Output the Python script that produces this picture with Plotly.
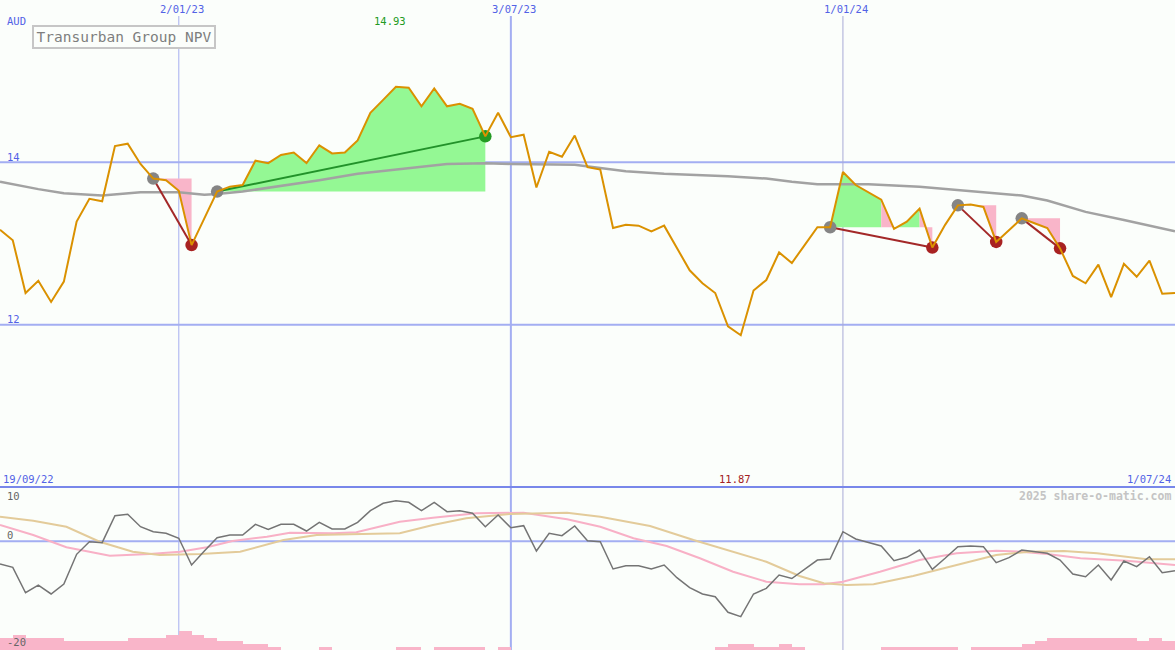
import numpy as np
import pandas as pd
import plotly.graph_objects as go

# ---------------- data ----------------
START = "2022-09-26"          # first weekly point
END = "2024-07-01"            # last weekly point
TITLE = "Transurban Group NPV"
CURRENCY = "AUD"

# weekly close (AUD)
price = [13.17, 13.04, 12.39, 12.54, 12.28, 12.53, 13.27, 13.55, 13.52, 14.20,
         14.23, 13.98, 13.80, 13.78, 13.65, 12.98, 13.31, 13.64, 13.70, 13.72,
         14.02, 13.99, 14.09, 14.12, 13.99, 14.21, 14.11, 14.12, 14.27, 14.61,
         14.77, 14.93, 14.92, 14.69, 14.91, 14.69, 14.72, 14.66, 14.32, 14.61,
         14.31, 14.34, 13.69, 14.13, 14.07, 14.33, 13.94, 13.91, 13.19, 13.23,
         13.22, 13.15, 13.22, 12.94, 12.67, 12.51, 12.39, 11.98, 11.87, 12.42,
         12.55, 12.89, 12.76, 12.98, 13.20, 13.20, 13.88, 13.72, 13.63, 13.54,
         13.18, 13.27, 13.43, 12.95, 13.23, 13.47, 13.48, 13.45, 13.02, 13.17,
         13.31, 13.25, 13.19, 12.94, 12.60, 12.51, 12.74, 12.34, 12.75, 12.59,
         12.79, 12.38, 12.39]

# long moving average (sampled, week index -> AUD)
ma_long_wk = [0, 3, 5, 8, 11, 14, 16, 17, 19, 23, 25, 28, 32, 35, 38, 40, 45, 47,
              49, 52, 57, 60, 62, 64, 66, 68, 72, 75, 80, 82, 85, 88, 92]
ma_long = [13.76, 13.67, 13.62, 13.59, 13.63, 13.63, 13.60, 13.61, 13.64, 13.73,
           13.78, 13.86, 13.93, 13.98, 13.99, 13.98, 13.97, 13.93, 13.89, 13.86,
           13.83, 13.80, 13.76, 13.73, 13.73, 13.73, 13.70, 13.66, 13.59, 13.53,
           13.39, 13.29, 13.15]

# trend segments: start week, end week, direction
seg_start = [12, 17, 65, 75, 80]
seg_end = [15, 38, 73, 78, 83]
seg_dir = ["down", "up", "down", "down", "down"]

# shaded spans: from week, to week, reference week (level), sign
shade_from = [12, 17, 65, 69, 70, 72, 75, 80]
shade_to = [15, 38, 69, 70, 72, 73, 78, 83]
shade_ref = [12, 17, 65, 65, 65, 65, 75, 80]
shade_sign = ["neg", "pos", "pos", "neg", "pos", "neg", "neg", "neg"]

# lower panel: momentum oscillator (weekly)
momentum = [-4.17, -4.78, -9.46, -8.04, -9.69, -7.85, -2.39, -0.07, -0.25, 4.72,
            4.98, 2.69, 1.77, 1.48, 0.56, -4.36, -1.78, 0.67, 1.17, 1.17,
            3.13, 2.21, 3.13, 3.13, 1.90, 3.50, 2.27, 2.27, 3.50, 5.64,
            7.00, 7.48, 7.18, 5.64, 7.18, 5.45, 5.64, 5.16, 2.69, 4.85,
            2.51, 2.88, -1.78, 1.48, 1.04, 2.82, 0.12, -0.07, -5.09, -4.49,
            -4.49, -5.09, -4.36, -6.69, -8.53, -9.69, -10.19, -13.06, -13.87, -9.69,
            -8.65, -6.20, -6.84, -5.09, -3.44, -3.25, 1.77, 0.43, -0.25, -0.86,
            -3.57, -2.94, -1.60, -5.15, -3.12, -0.99, -0.86, -0.99, -3.93, -3.01,
            -1.60, -1.91, -2.20, -3.44, -6.01, -6.51, -4.36, -7.12, -3.62, -4.67,
            -2.83, -5.77, -5.41]

pink_wk = [0, 2.6, 5.2, 8.6, 11.7, 14.1, 16.2, 18.2, 20.9, 22.7, 26.1, 27.9, 31.3,
           33.9, 37.3, 41, 44.4, 47, 49.6, 52.2, 54.8, 57.4, 60, 62.6, 64.5, 66,
           68.9, 72, 74.9, 78, 79.9, 82, 84.6, 88.2, 92]
pink_val = [3.01, 1.17, -1.10, -2.64, -2.33, -1.91, -1.10, 0.06, 0.85, 1.59, 1.48,
            1.66, 3.61, 4.35, 5.16, 5.27, 4.05, 2.69, 0.56, -0.86, -3.12, -5.59,
            -7.43, -7.91, -7.91, -7.43, -5.59, -3.44, -2.20, -1.72, -1.91, -2.33,
            -3.12, -3.57, -4.36]

tan_wk = [0, 2.6, 5.2, 7.8, 10.4, 12.5, 15.7, 18.8, 22.2, 24.8, 27.4, 31.3, 33.9,
          36.5, 39.9, 44.4, 47, 50.9, 54.3, 57.4, 60, 62.6, 64.5, 66.3, 68.4, 71.5,
          74.9, 78, 80.6, 83.3, 85.9, 89.8, 92]
tan_val = [4.53, 3.80, 2.69, -0.07, -1.91, -2.52, -2.33, -1.91, 0.24, 1.17, 1.29,
           1.48, 3.01, 4.24, 5.03, 5.27, 4.53, 2.82, 0.24, -1.91, -3.75, -6.38,
           -7.72, -8.04, -7.91, -6.38, -4.36, -2.52, -1.91, -1.78, -2.20, -3.31,
           -3.31]

# weekly volume (relative units)
volume = [12, 15, 12, 12, 12, 9, 9, 9, 9, 9, 12, 12, 12, 15, 19, 15, 12, 9, 9, 6,
          6, 3, 0, 0, 0, 3, 0, 0, 0, 0, 0, 3, 3, 0, 3, 3, 3, 3, 0, 3,
          0, 0, 0, 0, 0, 0, 0, 0, 0, 0, 0, 0, 0, 0, 0, 0, 3, 6, 6, 3,
          3, 6, 3, 0, 0, 0, 0, 0, 0, 3, 3, 3, 3, 3, 3, 0, 3, 3, 3, 3,
          6, 9, 12, 12, 12, 12, 12, 12, 12, 9, 12, 9, 0]

grid_dates = ["2023-01-02", "2023-07-03", "2024-01-01"]
grid_labels = ["2/01/23", "3/07/23", "1/01/24"]
price_ticks = [14, 12]
osc_ticks = [10, 0, -20]
start_label = "19/09/22"
end_label = "1/07/24"
credit = "2025 share-o-matic.com"

# ---------------- styling ----------------
W, H = 1175, 650
SPLIT = 487
BG = "#FBFEFB"
GRID = "#A3AEF2"
SEP = "#7887EA"
BLUE_TXT = "#5262E6"
ORANGE = "#DA9100"
GREY_MA = "#A2A2A2"
GREEN_FILL = "#94F894"
PINK_FILL = "#F9B5C9"
MONO = "DejaVu Sans Mono"
FS = 10.5


def wk(w):
    return pd.Timestamp(START) + pd.to_timedelta(np.asarray(w, dtype=float) * 7, unit="D")


dates = wk(np.arange(len(price)))
p = np.array(price)

fig = go.Figure()

# shaded areas
for a, b, r, s in zip(shade_from, shade_to, shade_ref, shade_sign):
    lvl = p[r]
    xs = [dates[a]] + list(dates[a:b + 1]) + [dates[b]]
    ys = [lvl] + list(p[a:b + 1]) + [lvl]
    fig.add_trace(go.Scatter(x=xs, y=ys, mode="lines", fill="toself",
                             fillcolor=GREEN_FILL if s == "pos" else PINK_FILL,
                             line=dict(width=0), hoverinfo="skip"))

# long MA
fig.add_trace(go.Scatter(x=wk(ma_long_wk), y=ma_long, mode="lines",
                         line=dict(color=GREY_MA, width=2.5), hoverinfo="skip"))

# trend lines
for a, b, d in zip(seg_start, seg_end, seg_dir):
    fig.add_trace(go.Scatter(x=[dates[a], dates[b]], y=[p[a], p[b]], mode="lines",
                             line=dict(color="#A32828" if d == "down" else "#22922A", width=2),
                             hoverinfo="skip"))

# dots
fig.add_trace(go.Scatter(x=[dates[a] for a in seg_start], y=[p[a] for a in seg_start],
                         mode="markers", marker=dict(color="#858585", size=12.5), hoverinfo="skip"))
fig.add_trace(go.Scatter(x=[dates[b] for b in seg_end], y=[p[b] for b in seg_end],
                         mode="markers",
                         marker=dict(color=["#A82222" if d == "down" else "#239A23" for d in seg_dir],
                                     size=12.5), hoverinfo="skip"))

# price
fig.add_trace(go.Scatter(x=dates, y=price, mode="lines",
                         line=dict(color=ORANGE, width=2), hoverinfo="skip"))

# lower panel
fig.add_trace(go.Bar(x=dates + pd.Timedelta(hours=84), y=volume, width=7 * 86400000,
                     marker=dict(color=PINK_FILL, line=dict(width=0)),
                     xaxis="x", yaxis="y3", hoverinfo="skip"))
fig.add_trace(go.Scatter(x=wk(pink_wk), y=pink_val, mode="lines", xaxis="x", yaxis="y2",
                         line=dict(color="#F8B0C6", width=2), hoverinfo="skip"))
fig.add_trace(go.Scatter(x=wk(tan_wk), y=tan_val, mode="lines", xaxis="x", yaxis="y2",
                         line=dict(color="#E3CB9A", width=2), hoverinfo="skip"))
fig.add_trace(go.Scatter(x=dates, y=momentum, mode="lines", xaxis="x", yaxis="y2",
                         line=dict(color="#747474", width=1.5), hoverinfo="skip"))

split_paper = 1 - SPLIT / H

shapes = []
for t in price_ticks:
    shapes.append(dict(type="line", xref="paper", x0=0, x1=1, yref="y", y0=t, y1=t,
                       line=dict(color=GRID, width=2), layer="below"))
shapes.append(dict(type="line", xref="paper", x0=0, x1=1, yref="y2", y0=0, y1=0,
                   line=dict(color=GRID, width=2), layer="below"))
vcols = ["#A6AEF0", "#A3AEF2", "#A8ABD6"]
vwid = [1, 2, 1]
for gd, c, wdt in zip(grid_dates, vcols, vwid):
    shapes.append(dict(type="line", xref="x", x0=gd, x1=gd, yref="paper",
                       y0=0, y1=1 - 16 / H, line=dict(color=c, width=wdt), layer="below"))
shapes.append(dict(type="line", xref="paper", x0=0, x1=1, yref="paper",
                   y0=split_paper, y1=split_paper, line=dict(color=SEP, width=2), layer="above"))


def px_x(x):
    return x / W


def px_y(y):
    return 1 - y / H


ann = []


def txt(s, x, y, color, size=FS, xanchor="left", bold=False, **kw):
    ann.append(dict(text=f"<b>{s}</b>" if bold else s, xref="paper", yref="paper",
                    x=px_x(x), y=px_y(y), xanchor=xanchor, yanchor="middle",
                    showarrow=False, font=dict(family=MONO, size=size, color=color), **kw))


for gd, lab in zip(grid_dates, grid_labels):
    xpx = (pd.Timestamp(gd) - pd.Timestamp(START)).days / (pd.Timestamp(END) - pd.Timestamp(START)).days * W
    txt(lab, xpx + 3, 9, BLUE_TXT, xanchor="center")

txt(CURRENCY, 5, 21, BLUE_TXT)
txt(str(price_ticks[0]), 5, 157, BLUE_TXT)
txt(str(price_ticks[1]), 5, 319, BLUE_TXT)

imax = int(np.argmax(p))
imin = int(np.argmin(p))
txt(f"{p[imax]:.2f}", 390, 21, "#229A22", xanchor="center")
txt(f"{p[imin]:.2f}", 735, 479, "#A32222", xanchor="center")
txt(start_label, 1, 479, BLUE_TXT)
txt(end_label, 1173, 479, BLUE_TXT, xanchor="right")
txt(credit, 1173, 496, "#C4C4C4", size=11.5, xanchor="right", bold=True)
txt(str(osc_ticks[0]), 5, 496, "#666666")
txt(str(osc_ticks[1]), 5, 535, "#666666")
txt(str(osc_ticks[2]), 5, 642, "#666666")

# title box
ann.append(dict(text=TITLE, xref="paper", yref="paper", x=px_x(32), y=px_y(25),
                xanchor="left", yanchor="top", showarrow=False,
                font=dict(family=MONO, size=14.5, color="#7E7E7E"),
                bordercolor="#C6C6C6", borderwidth=2, borderpad=1, bgcolor=BG,
                width=178, height=18))

fig.update_layout(
    width=W, height=H, margin=dict(l=0, r=0, t=0, b=0),
    paper_bgcolor=BG, plot_bgcolor=BG, showlegend=False, bargap=0,
    xaxis=dict(type="date", range=[START, END], visible=False, fixedrange=True),
    yaxis=dict(domain=[split_paper, 1], range=[10, 16], visible=False, anchor="x"),
    yaxis2=dict(domain=[0, split_paper], range=[-20, 10], visible=False, anchor="x"),
    yaxis3=dict(overlaying="y2", range=[0, 163], visible=False, anchor="x"),
    shapes=shapes, annotations=ann,
)

fig.write_html("out.html", config={"displayModeBar": False},
               post_script="document.body.style.margin='0';document.body.style.overflow='hidden';")
